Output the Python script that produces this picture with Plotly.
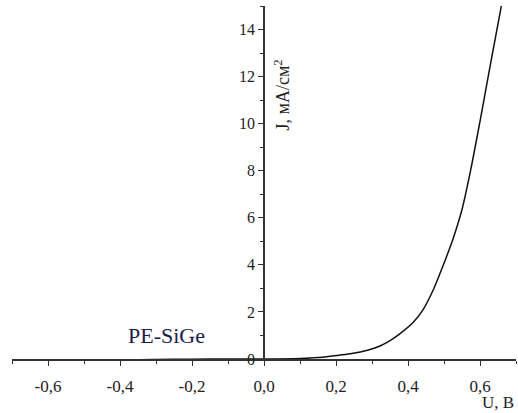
import plotly.graph_objects as go

# Data (U in V, J in mA/cm^2)
U = [-0.70, -0.60, -0.50, -0.40, -0.37, -0.30, -0.20, -0.10, 0.00, 0.10, 0.15,
     0.19, 0.24, 0.29, 0.322, 0.35, 0.378, 0.414, 0.442, 0.47, 0.497, 0.525, 0.55,
     0.575, 0.60, 0.63, 0.658, 0.67]
J = [-0.12, -0.11, -0.10, -0.08, -0.04, -0.02, -0.01, 0.00, 0.00, 0.02, 0.06,
     0.13, 0.22, 0.38, 0.55, 0.78, 1.08, 1.55, 2.10, 2.93, 3.95, 5.10, 6.35,
     8.10, 10.10, 12.60, 14.90, 15.90]

x_tickvals = [-0.6, -0.4, -0.2, 0.0, 0.2, 0.4, 0.6]
x_ticktext = ["-0,6", "-0,4", "-0,2", "0,0", "0,2", "0,4", "0,6"]
y_tickvals = [0, 2, 4, 6, 8, 10, 12, 14]
y_ticktext = ["0", "2", "4", "6", "8", "10", "12", "14"]

label_text = "PE-SiGe"
x_title = "U, В"
y_title = "J, мА/см<sup>2</sup>"

font_family = "Liberation Serif, Times New Roman, serif"
axis_color = "#333333"

fig = go.Figure()
fig.add_trace(go.Scatter(x=U, y=J, mode="lines",
                         line=dict(color="#111111", width=1.5, shape="spline", smoothing=0.8),
                         showlegend=False, cliponaxis=True))

fig.update_layout(
    width=518, height=413,
    margin=dict(l=12, r=2, t=6, b=54),
    paper_bgcolor="white", plot_bgcolor="white",
    font=dict(family=font_family, size=16, color="#222222"),
    xaxis=dict(range=[-0.7, 0.7], showgrid=False, zeroline=False,
               showline=True, linecolor=axis_color, linewidth=1.5,
               ticks="outside", ticklen=5, tickwidth=1.2, tickcolor=axis_color,
               tickvals=x_tickvals, ticktext=x_ticktext, ticklabelstandoff=6,
               minor=dict(dtick=0.1, ticks="outside", ticklen=3, tickcolor=axis_color),
               tickfont=dict(size=17), fixedrange=True),
    yaxis=dict(range=[0, 15], showgrid=False, zeroline=False,
               showline=True, linecolor=axis_color, linewidth=1.5,
               anchor="free", position=0.5,
               ticks="outside", ticklen=5, tickwidth=1.2, tickcolor=axis_color,
               tickvals=y_tickvals, ticktext=y_ticktext,
               minor=dict(dtick=1, ticks="outside", ticklen=3, tickcolor=axis_color),
               tickfont=dict(size=16), fixedrange=True),
)

fig.add_annotation(text=label_text, x=-0.27, y=0.98, xref="x", yref="y",
                   showarrow=False, font=dict(size=22, color="#1c1c4c", family=font_family))
fig.add_annotation(text=y_title, x=0.05, y=11.2, xref="x", yref="y",
                   textangle=-90, showarrow=False,
                   font=dict(size=18, color="#222222", family=font_family))
fig.add_annotation(text=x_title, x=1.0, y=-0.155, xref="paper", yref="paper",
                   xanchor="right", yanchor="bottom", showarrow=False,
                   font=dict(size=17, color="#222222", family=font_family))

fig.write_html("out.html", config={"displayModeBar": False},
               post_script="document.body.style.margin='0';")
